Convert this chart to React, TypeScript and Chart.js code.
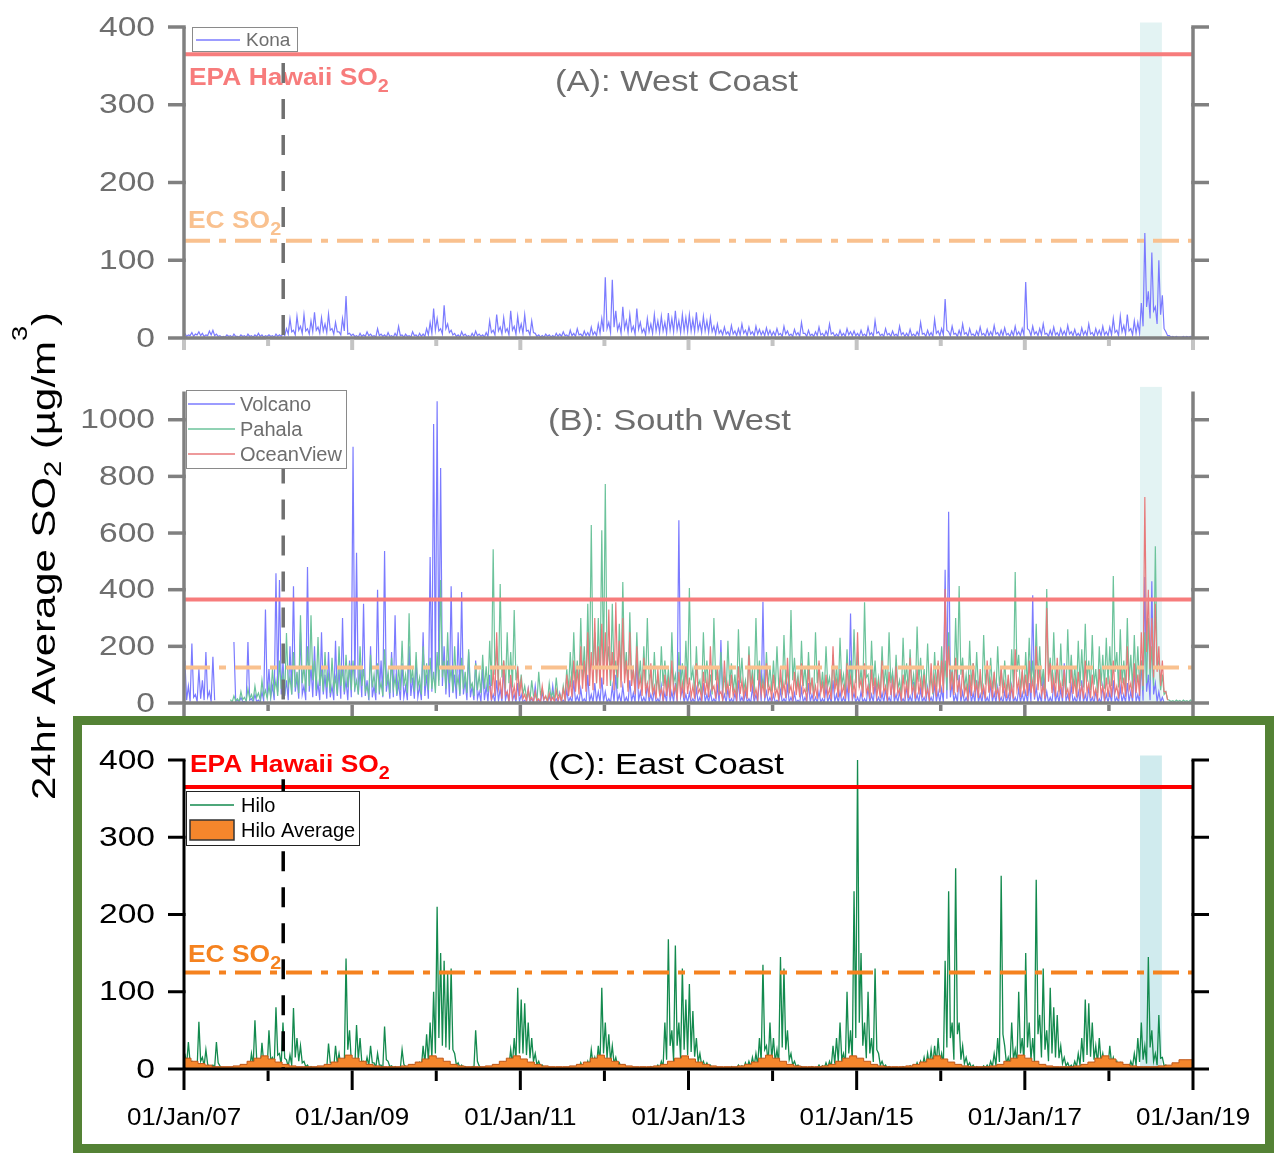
import React, { useEffect, useRef } from 'react';
import { Chart, registerables } from 'chart.js';

Chart.register(...registerables);

const FONT = '"Liberation Sans", Arial, Helvetica, sans-serif';

// ---------- axis / reference data ----------
const X_MIN = 2007;
const X_MAX = 2019;
const yearTicks = [2007, 2008, 2009, 2010, 2011, 2012, 2013, 2014, 2015, 2016, 2017, 2018, 2019];
const labelledYears = [2007, 2009, 2011, 2013, 2015, 2017, 2019];
const xTickLabels = ['01/Jan/07', '01/Jan/09', '01/Jan/11', '01/Jan/13', '01/Jan/15', '01/Jan/17', '01/Jan/19'];
const ticks400 = [0, 100, 200, 300, 400];
const ticks1000 = [0, 200, 400, 600, 800, 1000];

const EPA_HAWAII_SO2 = 365;
const EC_SO2 = 125;
const SUMMIT_ERUPTION = 2008.18; // Mar 2008
const LERZ_ERUPTION = [2018.37, 2018.63]; // May - Aug 2018

// every series: one peak and one low value per half month
const SAMPLES_PER_YEAR = 24;

// ---------- (A) West Coast : Kona ----------
const konaStart = 2007;
const konaPeaks = [
  6, 4, 7, 5, 8, 6, 4, 9, 10, 5, 3, 2, 4, 3, 5, 2, 4, 3, 5, 3, 4, 6, 4, 3,
  4, 3, 5, 4, 6, 12, 25, 10, 28, 15, 30, 12, 22, 33, 14, 26, 18, 31, 12, 20, 8, 25, 54, 6,
  5, 3, 6, 4, 8, 5, 3, 12, 5, 4, 7, 3, 6, 15, 4, 5, 3, 8, 4, 6, 5, 12, 20, 38,
  25, 12, 42, 18, 10, 6, 4, 8, 5, 3, 6, 9, 5, 4, 7, 22, 10, 30, 14, 26, 12, 35, 15, 28,
  18, 30, 10, 22, 6, 4, 3, 5, 4, 3, 6, 5, 8, 4, 10, 6, 12, 5, 9, 7, 14, 8, 18, 25,
  78, 20, 75, 35, 18, 40, 22, 30, 15, 38, 20, 12, 25, 18, 30, 22, 28, 20, 32, 25, 35, 22, 30, 26,
  30, 24, 33, 20, 28, 22, 26, 15, 18, 10, 14, 8, 16, 9, 12, 18, 10, 14, 8, 15, 11, 9, 13, 10,
  8, 12, 6, 15, 9, 5, 11, 7, 20, 6, 10, 5, 8, 14, 6, 9, 18, 7, 5, 10, 6, 12, 8, 9,
  6, 10, 5, 14, 7, 22, 8, 5, 12, 6, 9, 5, 15, 7, 6, 11, 5, 8, 20, 6, 10, 7, 24, 9,
  12, 50, 8, 15, 6, 10, 18, 7, 12, 5, 9, 14, 6, 11, 8, 16, 7, 10, 13, 6, 9, 15, 8, 12,
  72, 10, 15, 8, 12, 18, 6, 10, 14, 7, 12, 9, 16, 8, 11, 6, 13, 9, 18, 7, 12, 10, 15, 8,
  14, 25, 10, 28, 16, 30, 12, 22, 20, 45, 135, 60, 110, 40, 100, 55, 8, 3, 2, 2, 1, 2, 2, 2,
];
const konaLows = [
  2, 3, 2, 4, 3, 2, 3, 4, 3, 2, 1, 1, 2, 1, 2, 1, 2, 1, 2, 1, 2, 2, 1, 2,
  2, 1, 2, 2, 3, 5, 8, 4, 10, 6, 9, 5, 8, 10, 6, 9, 7, 10, 5, 8, 4, 9, 5, 3,
  2, 1, 2, 2, 3, 2, 1, 3, 2, 1, 2, 1, 2, 3, 1, 2, 1, 3, 1, 2, 2, 4, 6, 10,
  9, 5, 12, 7, 4, 2, 1, 3, 2, 1, 2, 3, 2, 1, 2, 7, 4, 9, 5, 8, 4, 10, 5, 9,
  6, 9, 4, 7, 2, 1, 1, 2, 1, 1, 2, 2, 3, 1, 3, 2, 4, 2, 3, 2, 4, 3, 6, 8,
  12, 7, 14, 10, 6, 12, 7, 9, 5, 11, 7, 4, 8, 6, 9, 7, 9, 6, 10, 8, 10, 7, 9, 8,
  9, 8, 10, 7, 9, 7, 8, 5, 6, 4, 5, 3, 5, 3, 4, 6, 3, 5, 3, 5, 4, 3, 4, 3,
  3, 4, 2, 5, 3, 2, 4, 2, 6, 2, 3, 2, 3, 4, 2, 3, 5, 2, 2, 3, 2, 4, 3, 3,
  2, 3, 2, 4, 2, 6, 3, 2, 4, 2, 3, 2, 4, 2, 2, 3, 2, 3, 5, 2, 3, 2, 6, 3,
  4, 10, 3, 5, 2, 3, 5, 2, 4, 2, 3, 4, 2, 3, 3, 5, 2, 3, 4, 2, 3, 4, 3, 4,
  12, 3, 5, 3, 4, 5, 2, 3, 4, 2, 4, 3, 5, 3, 3, 2, 4, 3, 5, 2, 4, 3, 4, 3,
  4, 7, 3, 8, 5, 9, 4, 6, 6, 15, 40, 25, 35, 18, 30, 12, 3, 1, 1, 1, 1, 1, 1, 1,
];

// ---------- (B) South West ----------
const volcanoStart = 2007;
const volcanoPeaks = [
  150, 60, 210, 30, 120, 80, 180, 40, 163, null, null, null, null, null, 215, 10, 20, 5, 215, 15, 30, 10, 40, 330,
  120, 60, 458, 434, 150, 80, 200, 412, 90, 250, 60, 480, 130, 200, 70, 250, 100, 180, 60, 220, 120, 300, 80, 150,
  905, 530, 120, 350, 80, 200, 60, 400, 150, 537, 90, 180, 310, 70, 140, 60, 200, 90, 150, 60, 250, 100, 515, 985,
  1065, 830, 200, 150, 412, 100, 250, 392, 80, 180, 60, 150, 40, 120, 60, 100, 30, 80, 50, 120, 40, 90, 30, 70,
  30, 10, 50, 15, 60, 10, 40, 5, 25, 60, 15, 35, 10, 45, 20, 80, 25, 50, 15, 100, 30, 70, 40, 90,
  40, 15, 60, 100, 30, 60, 20, 80, 35, 150, 40, 20, 70, 30, 50, 15, 60, 35, 100, 40, 70, 645, 50, 30,
  35, 15, 50, 20, 70, 30, 40, 15, 60, 222, 30, 50, 15, 35, 80, 20, 40, 15, 55, 30, 100, 357, 40, 20,
  30, 10, 45, 15, 60, 20, 35, 10, 50, 20, 70, 30, 20, 40, 15, 55, 25, 80, 30, 40, 20, 60, 316, 35,
  20, 40, 15, 55, 30, 70, 20, 35, 50, 20, 100, 30, 40, 15, 60, 25, 75, 30, 50, 20, 55, 20, 70, 40,
  50, 470, 675, 70, 30, 100, 40, 20, 60, 35, 80, 30, 50, 20, 70, 35, 55, 20, 40, 30, 60, 20, 50, 35,
  40, 70, 380, 55, 30, 100, 40, 20, 70, 35, 50, 140, 30, 60, 20, 40, 80, 30, 55, 20, 40, 15, 60, 30,
  35, 80, 20, 55, 30, 70, 40, 120, 30, 150, 445, 100, 430, 70, 40, 20,
];
const volcanoLows = [
  10, 5, 20, 5, 15, 10, 20, 5, 10, null, null, null, null, null, 5, 2, 5, 1, 10, 3, 5, 2, 8, 20,
  20, 10, 40, 30, 25, 10, 30, 40, 15, 30, 10, 40, 20, 25, 10, 30, 15, 20, 10, 25, 15, 30, 10, 20,
  40, 30, 20, 25, 10, 20, 10, 30, 20, 40, 15, 20, 25, 10, 20, 10, 25, 15, 20, 10, 25, 15, 40, 60,
  80, 60, 30, 20, 35, 15, 25, 30, 10, 20, 10, 15, 5, 10, 5, 10, 3, 8, 5, 10, 3, 8, 3, 5,
  3, 1, 5, 2, 5, 1, 3, 1, 2, 5, 1, 3, 1, 4, 2, 5, 2, 4, 1, 6, 2, 5, 3, 5,
  3, 1, 4, 6, 2, 4, 1, 5, 2, 8, 3, 1, 4, 2, 3, 1, 4, 2, 6, 3, 4, 20, 3, 2,
  2, 1, 3, 1, 4, 2, 3, 1, 3, 8, 2, 3, 1, 2, 5, 1, 3, 1, 3, 2, 5, 10, 2, 1,
  2, 1, 3, 1, 3, 1, 2, 1, 3, 1, 4, 2, 1, 3, 1, 3, 2, 5, 2, 3, 1, 4, 10, 2,
  1, 3, 1, 3, 2, 4, 1, 2, 3, 1, 5, 2, 3, 1, 3, 2, 4, 2, 3, 1, 3, 1, 4, 2,
  3, 15, 20, 4, 2, 5, 2, 1, 3, 2, 4, 2, 3, 1, 4, 2, 3, 1, 2, 2, 3, 1, 3, 2,
  2, 4, 12, 3, 2, 5, 2, 1, 4, 2, 3, 6, 2, 3, 1, 2, 4, 2, 3, 1, 2, 1, 3, 2,
  2, 4, 1, 3, 2, 4, 2, 6, 2, 8, 40, 10, 30, 5, 3, 2,
];

const pahalaStart = 2007 + 13 / 24;
const pahalaPeaks = [
  12, 25, 15, 40, 20, 50, 30, 60, 35, 80, 45,
  60, 120, 80, 150, 100, 247, 90, 180, 110, 310, 130, 200, 310, 150, 233, 120, 180, 100, 160, 90, 200, 120, 170, 140,
  150, 80, 200, 120, 60, 170, 100, 140, 70, 190, 110, 160, 90, 130, 220, 100, 317, 120, 180, 90, 200, 140, 160, 110,
  180, 434, 150, 250, 120, 200, 90, 160, 110, 190, 70, 140, 100, 170, 130, 220, 543, 200, 420, 150, 250, 180, 328, 120,
  100, 60, 40, 80, 30, 110, 50, 20, 70, 40, 90, 30, 60, 120, 180, 250, 150, 300, 200, 350, 628, 250, 300, 610,
  773, 200, 350, 150, 280, 427, 180, 320, 120, 250, 150, 200, 300, 110, 180, 90, 200, 150, 120, 250, 100, 180, 140, 220,
  406, 120, 200, 80, 250, 150, 100, 300, 130, 180, 90, 220, 140, 100, 260, 160, 80, 200, 120, 300, 150, 90, 180, 130,
  150, 200, 90, 240, 120, 328, 160, 100, 220, 130, 180, 80, 250, 140, 110, 200, 90, 170, 130, 230, 100, 190, 150, 260,
  180, 120, 356, 100, 220, 150, 90, 200, 130, 250, 110, 170, 80, 230, 140, 190, 100, 270, 160, 120, 210, 90, 180, 140,
  200, 150, 250, 120, 300, 413, 160, 100, 220, 140, 180, 90, 240, 130, 160, 100, 200, 120, 150, 80, 190, 462, 170, 110,
  180, 230, 150, 280, 200, 120, 402, 160, 250, 140, 210, 100, 260, 170, 130, 220, 190, 280, 150, 240, 120, 200, 170, 230,
  200, 448, 180, 260, 150, 300, 170, 240, 200, 150, 250, 300, 200, 553, 150, 100, 40, 10, 8, 10, 9, 10, 8, 10,
];
const pahalaLows = [
  3, 8, 5, 12, 6, 15, 10, 20, 12, 25, 15,
  20, 40, 25, 50, 30, 60, 30, 55, 35, 70, 40, 60, 80, 45, 60, 40, 55, 35, 50, 30, 60, 40, 55, 45,
  50, 30, 60, 40, 25, 55, 35, 45, 25, 60, 35, 50, 30, 45, 60, 35, 70, 40, 55, 30, 60, 45, 50, 35,
  60, 90, 50, 70, 40, 60, 30, 50, 35, 55, 25, 45, 35, 50, 40, 60, 100, 60, 90, 50, 70, 55, 80, 40,
  30, 20, 10, 25, 8, 30, 15, 5, 20, 10, 25, 8, 20, 40, 55, 70, 50, 80, 60, 90, 120, 70, 80, 110,
  130, 60, 90, 50, 80, 100, 55, 85, 40, 70, 45, 60, 80, 35, 55, 30, 60, 45, 35, 70, 30, 55, 40, 65,
  80, 35, 60, 25, 70, 45, 30, 80, 40, 55, 30, 60, 40, 30, 70, 45, 25, 60, 35, 80, 45, 30, 55, 40,
  45, 60, 30, 65, 35, 80, 50, 30, 60, 40, 55, 25, 70, 40, 35, 60, 30, 50, 40, 65, 30, 55, 45, 70,
  55, 35, 90, 30, 60, 45, 30, 55, 40, 70, 35, 50, 25, 65, 40, 55, 30, 75, 45, 35, 60, 30, 55, 40,
  60, 45, 70, 35, 80, 100, 50, 30, 60, 40, 55, 30, 65, 40, 50, 30, 60, 35, 45, 25, 55, 110, 50, 35,
  55, 65, 45, 75, 60, 35, 100, 50, 70, 40, 60, 30, 70, 50, 40, 60, 55, 75, 45, 65, 35, 60, 50, 65,
  60, 110, 55, 70, 45, 80, 50, 65, 60, 45, 70, 80, 60, 130, 45, 30, 12, 5, 4, 5, 4, 5, 4, 5,
];

const oceanViewStart = 2010 + 15 / 24;
const oceanViewPeaks = [
  60, 120, 250, 80, 150, 40, 100, 60, 130,
  80, 30, 50, 20, 40, 15, 60, 25, 35, 20, 45, 30, 50, 100, 80, 150, 120, 200, 150, 250, 180, 300, 200, 280,
  250, 330, 180, 356, 220, 300, 150, 250, 120, 200, 90, 160, 70, 140, 60, 120, 50, 100, 80, 150, 60, 110, 70, 130,
  90, 60, 140, 50, 110, 80, 200, 60, 120, 40, 150, 70, 100, 50, 130, 80, 60, 170, 90, 50, 120, 70, 140, 60,
  100, 50, 130, 70, 160, 60, 110, 80, 140, 50, 120, 90, 60, 150, 70, 100, 50, 200, 80, 120, 60, 140, 90, 70,
  250, 80, 140, 60, 120, 90, 70, 150, 60, 110, 80, 130, 50, 100, 70, 160, 60, 120, 80, 100, 50, 140, 90, 150,
  150, 402, 200, 110, 160, 80, 130, 60, 100, 140, 70, 120, 60, 150, 80, 110, 50, 130, 70, 100, 60, 190, 80, 120,
  100, 150, 80, 200, 120, 60, 335, 140, 90, 160, 70, 120, 50, 130, 80, 110, 60, 150, 70, 100, 50, 120, 60, 90,
  80, 150, 60, 120, 90, 200, 70, 140, 100, 250, 727, 400, 300, 350, 200, 150, 40,
];
const oceanViewLows = [
  10, 25, 50, 15, 30, 8, 20, 12, 25,
  15, 5, 10, 4, 8, 3, 12, 5, 7, 4, 9, 6, 10, 25, 20, 40, 30, 50, 40, 60, 45, 70, 50, 65,
  60, 80, 45, 90, 55, 70, 40, 60, 30, 50, 25, 40, 20, 35, 15, 30, 12, 25, 20, 35, 15, 28, 18, 32,
  22, 15, 35, 12, 28, 20, 45, 15, 30, 10, 35, 18, 25, 12, 32, 20, 15, 40, 22, 12, 30, 18, 35, 15,
  25, 12, 32, 18, 38, 15, 28, 20, 35, 12, 30, 22, 15, 36, 18, 25, 12, 45, 20, 30, 15, 35, 22, 18,
  55, 20, 35, 15, 30, 22, 18, 36, 15, 28, 20, 32, 12, 25, 18, 38, 15, 30, 20, 25, 12, 35, 22, 36,
  36, 90, 45, 28, 38, 20, 32, 15, 25, 35, 18, 30, 15, 36, 20, 28, 12, 32, 18, 25, 15, 45, 20, 30,
  25, 36, 20, 45, 30, 15, 75, 35, 22, 38, 18, 30, 12, 32, 20, 28, 15, 36, 18, 25, 12, 30, 15, 22,
  20, 36, 15, 30, 22, 45, 18, 35, 25, 60, 180, 120, 90, 110, 60, 40, 10,
];

// ---------- (C) East Coast ----------
const hiloStart = 2007;
const hiloPeaks = [
  20, 35, 10, 8, 61, 15, 25, 3, 5, 35, 4, 2, 2, 1, 2, 2, 1, 3, 2, 20, 63, 8, 34, 12,
  50, 15, 80, 20, 60, 12, 18, 79, 40, 30, 10, 5, 3, 2, 2, 1, 3, 33, 8, 30, 20, 10, 143, 50,
  8, 57, 40, 10, 15, 30, 8, 20, 5, 55, 10, 4, 3, 2, 25, 3, 2, 5, 4, 8, 30, 45, 60, 100,
  210, 150, 140, 125, 130, 20, 8, 5, 3, 2, 3, 50, 4, 2, 2, 1, 3, 2, 5, 8, 10, 25, 40, 105,
  90, 85, 60, 40, 20, 10, 5, 3, 2, 2, 1, 2, 1, 2, 3, 2, 4, 8, 6, 10, 25, 15, 30, 105,
  60, 45, 30, 15, 8, 5, 3, 2, 2, 1, 2, 2, 1, 3, 2, 5, 10, 60, 168, 50, 160, 60, 130, 90,
  110, 75, 40, 20, 10, 8, 5, 3, 2, 2, 1, 2, 3, 2, 5, 4, 8, 10, 15, 20, 40, 135, 30, 60,
  40, 25, 145, 130, 50, 20, 10, 5, 3, 2, 2, 3, 2, 5, 4, 8, 10, 30, 40, 60, 20, 100, 50, 230,
  400, 150, 60, 100, 40, 130, 20, 10, 5, 3, 2, 2, 1, 3, 2, 4, 5, 8, 10, 15, 20, 25, 30, 40,
  20, 140, 230, 60, 260, 60, 30, 15, 8, 5, 3, 2, 4, 5, 10, 20, 40, 250, 30, 15, 60, 25, 100, 40,
  150, 60, 40, 245, 70, 130, 50, 105, 80, 70, 30, 15, 8, 5, 10, 20, 40, 90, 85, 60, 30, 40, 20, 10,
  30, 15, 10, 8, 5, 3, 10, 20, 40, 60, 30, 145, 50, 20, 70, 15, 5, 3, 2, 1, 2, 1, 2, 3,
];
const hiloLows = [
  5, 8, 3, 2, 10, 4, 6, 1, 2, 8, 1, 1, 1, 0, 1, 1, 0, 1, 1, 5, 12, 2, 8, 3,
  12, 4, 18, 5, 14, 3, 5, 15, 10, 8, 3, 1, 1, 1, 1, 0, 1, 8, 2, 7, 5, 3, 25, 10,
  2, 12, 9, 3, 4, 8, 2, 5, 1, 12, 3, 1, 1, 1, 6, 1, 1, 1, 1, 2, 7, 10, 14, 20,
  40, 30, 28, 25, 25, 5, 2, 1, 1, 1, 1, 10, 1, 1, 1, 0, 1, 1, 1, 2, 3, 6, 10, 20,
  20, 18, 14, 10, 5, 3, 1, 1, 1, 1, 0, 1, 0, 1, 1, 1, 1, 2, 2, 3, 6, 4, 7, 20,
  14, 10, 7, 4, 2, 1, 1, 1, 1, 0, 1, 1, 0, 1, 1, 1, 3, 12, 30, 10, 30, 12, 25, 18,
  22, 16, 9, 5, 3, 2, 1, 1, 1, 1, 0, 1, 1, 1, 1, 1, 2, 3, 4, 5, 9, 25, 7, 12,
  9, 6, 28, 25, 12, 5, 3, 1, 1, 1, 1, 1, 1, 1, 1, 2, 3, 7, 9, 12, 5, 20, 10, 40,
  60, 30, 14, 20, 9, 25, 5, 3, 1, 1, 1, 1, 0, 1, 1, 1, 1, 2, 3, 4, 5, 6, 7, 9,
  5, 28, 40, 12, 45, 12, 7, 4, 2, 1, 1, 1, 1, 1, 3, 5, 9, 45, 7, 4, 12, 6, 20, 9,
  28, 12, 9, 45, 15, 25, 10, 20, 15, 14, 7, 4, 2, 1, 3, 5, 9, 18, 16, 12, 7, 9, 5, 3,
  7, 4, 3, 2, 1, 1, 3, 5, 9, 12, 7, 28, 10, 5, 14, 4, 1, 1, 1, 0, 1, 0, 1, 1,
];

// monthly Hilo average
const hiloAverageStart = 2007;
const hiloAverage = [
  17, 14, 10, 7, 5, 3, 3, 3, 4, 6, 10, 14,
  17, 13, 9, 6, 4, 3, 3, 3, 4, 6, 9, 14,
  18, 14, 10, 6, 4, 3, 3, 3, 4, 6, 9, 13,
  17, 14, 10, 6, 4, 3, 3, 3, 4, 6, 10, 14,
  17, 13, 9, 6, 4, 3, 3, 3, 4, 6, 9, 14,
  18, 14, 10, 6, 4, 3, 3, 3, 4, 6, 10, 14,
  17, 13, 9, 6, 4, 3, 3, 3, 4, 6, 9, 14,
  18, 14, 10, 6, 4, 3, 3, 3, 4, 6, 10, 14,
  17, 14, 10, 6, 4, 3, 3, 3, 4, 6, 9, 13,
  17, 13, 9, 6, 4, 3, 3, 3, 4, 6, 10, 14,
  18, 14, 10, 6, 4, 3, 3, 3, 4, 6, 9, 14,
  17, 13, 9, 6, 4, 3, 3, 3, 4, 5, 8, 12,
];

// ---------- helpers ----------
function toZigzag(peaks: (number | null)[], lows: (number | null)[], start: number) {
  const pts: { x: number; y: number | null }[] = [];
  peaks.forEach((v, i) => {
    pts.push({ x: start + (i + 0.25) / SAMPLES_PER_YEAR, y: v });
    pts.push({ x: start + (i + 0.75) / SAMPLES_PER_YEAR, y: lows[i] ?? null });
  });
  return pts;
}
function toSteps(vals: number[], start: number) {
  const pts = vals.map((v, i) => ({ x: start + i / 12, y: v }));
  pts.push({ x: X_MAX, y: vals[vals.length - 1] });
  return pts;
}
function hLine(value: number) {
  return [{ x: X_MIN, y: value }, { x: X_MAX, y: value }];
}

type Seg = { t: string; scale?: number; dy?: number };
function drawRich(ctx: CanvasRenderingContext2D, segs: Seg[], x: number, y: number, o: any) {
  ctx.save();
  ctx.translate(x, y);
  if (o.rotate) ctx.rotate(o.rotate);
  ctx.scale(o.sx ?? 1, 1);
  ctx.fillStyle = o.color;
  ctx.textBaseline = o.baseline ?? 'alphabetic';
  ctx.textAlign = 'left';
  const fnt = (s: number) => `${o.bold ? 'bold ' : ''}${s}px ${FONT}`;
  const widths = segs.map((s) => {
    ctx.font = fnt(o.size * (s.scale ?? 1));
    return ctx.measureText(s.t).width;
  });
  const total = widths.reduce((a, b) => a + b, 0);
  let cx = o.align === 'center' ? -total / 2 : o.align === 'right' ? -total : 0;
  segs.forEach((s, i) => {
    ctx.font = fnt(o.size * (s.scale ?? 1));
    ctx.fillText(s.t, cx, (s.dy ?? 0) * o.size);
    cx += widths[i];
  });
  ctx.restore();
}
function seg(ctx: CanvasRenderingContext2D, x0: number, y0: number, x1: number, y1: number) {
  ctx.beginPath();
  ctx.moveTo(x0, y0);
  ctx.lineTo(x1, y1);
  ctx.stroke();
}

const SO2 = (name: string): Seg[] => [{ t: name + ' SO' }, { t: '2', scale: 0.75, dy: 0.3 }];

function makePlugin(p: any) {
  return {
    id: 'panelDecor',
    beforeDatasetsDraw(chart: any) {
      const { ctx, chartArea: ca, scales } = chart;
      const x0 = scales.x.getPixelForValue(LERZ_ERUPTION[0]);
      const x1 = scales.x.getPixelForValue(LERZ_ERUPTION[1]);
      ctx.save();
      ctx.fillStyle = p.shade;
      ctx.fillRect(x0, ca.top - 4.5, x1 - x0, ca.bottom - ca.top + 4.5);
      ctx.restore();
    },
    afterDatasetsDraw(chart: any) {
      const { ctx, chartArea: ca, scales } = chart;
      const xs = scales.x;
      const ys = scales.y;
      const T = p.top;
      ctx.save();
      if (p.epaLabel) drawRich(ctx, SO2('EPA Hawaii'), p.epaLabel[0], p.epaLabel[1] - T, { size: 24, bold: true, sx: 1.1, color: p.epa });
      if (p.ecLabel) drawRich(ctx, SO2('EC'), p.ecLabel[0], p.ecLabel[1] - T, { size: 24, bold: true, sx: 1.1, color: p.ec });
      const vx = xs.getPixelForValue(SUMMIT_ERUPTION);
      ctx.strokeStyle = p.vline;
      ctx.lineWidth = 3.5;
      ctx.setLineDash([20, 16]);
      seg(ctx, vx, ys.getPixelForValue(p.vlineFrom), vx, ca.bottom);
      ctx.setLineDash([]);
      const L = p.legend;
      ctx.fillStyle = '#fff';
      ctx.fillRect(L.x, L.y - T, L.w, L.h);
      ctx.strokeStyle = L.border;
      ctx.lineWidth = 1;
      ctx.strokeRect(L.x + 0.5, L.y - T + 0.5, L.w, L.h);
      L.items.forEach((it: any) => {
        const cy = it.y - T;
        if (it.kind === 'line') {
          ctx.strokeStyle = it.color;
          ctx.lineWidth = 1.5;
          seg(ctx, L.s0, cy, L.s1, cy);
        } else {
          ctx.fillStyle = it.color;
          ctx.fillRect(L.s0, cy - 10, L.s1 - L.s0, 20);
          ctx.strokeStyle = '#333';
          ctx.lineWidth = 1.5;
          ctx.strokeRect(L.s0, cy - 10, L.s1 - L.s0, 20);
        }
        drawRich(ctx, [{ t: it.label }], L.tx, cy + 1, { size: L.size, color: L.color, baseline: 'middle' });
      });
      drawRich(ctx, [{ t: p.title }], p.titleX, p.titleY - T, { size: 30, sx: 1.15, color: p.text });
      ctx.strokeStyle = p.axis;
      ctx.lineWidth = p.axisW;
      seg(ctx, ca.left, ca.top, ca.left, ca.bottom + p.axisW / 2);
      seg(ctx, ca.right, ca.top, ca.right, ca.bottom + p.axisW / 2);
      seg(ctx, ca.left, ca.bottom, ca.right, ca.bottom);
      p.yTicks.forEach((v: number) => {
        const py = ys.getPixelForValue(v);
        seg(ctx, ca.left - 16, py, ca.left + p.axisW / 2, py);
        seg(ctx, ca.right - p.axisW / 2, py, ca.right + 16, py);
        drawRich(ctx, [{ t: String(v) }], 155, py + 1, { size: 28, sx: 1.2, color: p.text, align: 'right', baseline: 'middle' });
      });
      ctx.strokeStyle = p.xTickColor;
      ctx.lineWidth = p.xTickW;
      yearTicks.forEach((yr) => {
        const px = xs.getPixelForValue(yr);
        const major = labelledYears.includes(yr);
        seg(ctx, px, ca.bottom + p.axisW / 2, px, ca.bottom + (major ? p.xTickMajor : p.xTickMinor));
      });
      if (p.xLabels) {
        labelledYears.forEach((yr, i) => {
          const px = xs.getPixelForValue(yr);
          drawRich(ctx, [{ t: xTickLabels[i] }], px, 1119 - T, { size: 23, sx: 1.13, color: p.text, align: 'center', baseline: 'middle' });
        });
      }
      ctx.restore();
    },
  };
}

const GRAY_THEME = {
  axis: '#808080', axisW: 3.5, text: '#6e6e6e', shade: '#e3f3f3', vline: '#707070',
  epa: '#f77c7c', ec: '#f9c18f',
};

function refSets(epa: string, ec: string) {
  return [
    { label: 'EPA Hawaii SO2', data: hLine(EPA_HAWAII_SO2), borderColor: epa, borderWidth: 4, order: -2 },
    { label: 'EC SO2', data: hLine(EC_SO2), borderColor: ec, borderWidth: 4, borderDash: [26, 9, 7, 9], order: -1 },
  ];
}

const panelA = {
  ...GRAY_THEME,
  top: 0, height: 370, padTop: 27, xAxisH: 32, yMax: 400, yTicks: ticks400,
  xTickColor: '#c4c4c4', xTickW: 4, xTickMajor: 12, xTickMinor: 8, vlineFrom: 400,
  title: '(A): West Coast', titleX: 555, titleY: 91,
  epaLabel: [189, 85], ecLabel: [188, 228], xLabels: false,
  legend: {
    x: 192, y: 27, w: 105, h: 24, border: '#8a8a8a', color: '#6e6e6e', size: 19, s0: 196, s1: 240, tx: 246,
    items: [{ label: 'Kona', color: '#7b7bff', kind: 'line', y: 40 }],
  },
  datasets: () => [
    ...refSets(GRAY_THEME.epa, GRAY_THEME.ec),
    { label: 'Kona', data: toZigzag(konaPeaks, konaLows, konaStart), borderColor: '#7b7bff', borderWidth: 1.2, order: 1 },
  ],
};

const panelB = {
  ...GRAY_THEME,
  top: 370, height: 346, padTop: 21.4, xAxisH: 13, yMax: 1100, yTicks: ticks1000,
  xTickColor: '#808080', xTickW: 3.5, xTickMajor: 14, xTickMinor: 8, vlineFrom: 1100,
  title: '(B): South West', titleX: 548, titleY: 430, xLabels: false,
  legend: {
    x: 186, y: 390, w: 160, h: 78, border: '#8a8a8a', color: '#6e6e6e', size: 20, s0: 188, s1: 235, tx: 240,
    items: [
      { label: 'Volcano', color: '#7b7bff', kind: 'line', y: 404 },
      { label: 'Pahala', color: '#6cc39b', kind: 'line', y: 429 },
      { label: 'OceanView', color: '#e8797a', kind: 'line', y: 454 },
    ],
  },
  datasets: () => [
    ...refSets(GRAY_THEME.epa, GRAY_THEME.ec),
    { label: 'OceanView', data: toZigzag(oceanViewPeaks, oceanViewLows, oceanViewStart), borderColor: '#e8797a', borderWidth: 1.2, order: 1 },
    { label: 'Pahala', data: toZigzag(pahalaPeaks, pahalaLows, pahalaStart), borderColor: '#6cc39b', borderWidth: 1.2, order: 2 },
    { label: 'Volcano', data: toZigzag(volcanoPeaks, volcanoLows, volcanoStart), borderColor: '#7b7bff', borderWidth: 1.2, order: 3 },
  ],
};

const panelC = {
  axis: '#000', axisW: 3, text: '#000', shade: '#d0ebee', vline: '#000', epa: '#ff0000', ec: '#f5821f',
  top: 720, height: 433, padTop: 40, xAxisH: 84, yMax: 400, yTicks: ticks400,
  xTickColor: '#000', xTickW: 3, xTickMajor: 21, xTickMinor: 12, vlineFrom: 375,
  title: '(C): East Coast', titleX: 548, titleY: 774,
  epaLabel: [190, 772], ecLabel: [188, 962], xLabels: true,
  legend: {
    x: 186, y: 791, w: 173, h: 54, border: '#222', color: '#000', size: 20, s0: 190, s1: 234, tx: 241,
    items: [
      { label: 'Hilo', color: '#138a4e', kind: 'line', y: 805 },
      { label: 'Hilo Average', color: '#f5862c', kind: 'box', y: 830 },
    ],
  },
  datasets: () => [
    ...refSets('#ff0000', '#f5821f'),
    {
      label: 'Hilo Average', data: toSteps(hiloAverage, hiloAverageStart), stepped: 'after', fill: 'origin',
      backgroundColor: '#f5862c', borderColor: '#c0581a', borderWidth: 1, order: 0,
    },
    { label: 'Hilo', data: toZigzag(hiloPeaks, hiloLows, hiloStart), borderColor: '#138a4e', borderWidth: 1.3, order: 1 },
  ],
};

function makeChart(canvas: HTMLCanvasElement, p: any) {
  return new Chart(canvas, {
    type: 'line',
    data: { datasets: p.datasets() },
    options: {
      responsive: false,
      animation: false,
      devicePixelRatio: 1,
      events: [],
      layout: { padding: { left: 0, right: 81, top: p.padTop, bottom: 0 } },
      plugins: { legend: { display: false }, tooltip: { enabled: false }, title: { display: false } },
      elements: { point: { radius: 0 }, line: { tension: 0 } },
      scales: {
        x: {
          type: 'linear', min: X_MIN, max: X_MAX,
          grid: { display: false, drawTicks: false }, border: { display: false }, ticks: { display: false },
          afterFit: (s: any) => { s.height = p.xAxisH; },
        },
        y: {
          type: 'linear', min: 0, max: p.yMax,
          grid: { display: false, drawTicks: false }, border: { display: false }, ticks: { display: false },
          afterFit: (s: any) => { s.width = 184; },
        },
      },
    } as any,
    plugins: [makePlugin(p)],
  } as any);
}

export default function App() {
  const aRef = useRef<HTMLCanvasElement>(null);
  const bRef = useRef<HTMLCanvasElement>(null);
  const cRef = useRef<HTMLCanvasElement>(null);
  const tRef = useRef<HTMLCanvasElement>(null);

  useEffect(() => {
    const charts = [
      makeChart(aRef.current!, panelA),
      makeChart(bRef.current!, panelB),
      makeChart(cRef.current!, panelC),
    ];
    const ctx = tRef.current!.getContext('2d')!;
    ctx.clearRect(0, 0, 70, 1153);
    drawRich(
      ctx,
      [
        { t: '24hr Average SO' },
        { t: '2', scale: 0.7, dy: 0.18 },
        { t: ' (µg/m' },
        { t: '3', scale: 0.65, dy: -0.85 },
        { t: ')' },
      ],
      55, 556,
      { size: 33, sx: 1.27, color: '#000', align: 'center', rotate: -Math.PI / 2 }
    );
    return () => charts.forEach((c) => c.destroy());
  }, []);

  const abs = (top: number): React.CSSProperties => ({ position: 'absolute', left: 0, top, display: 'block' });
  return (
    <div style={{ position: 'fixed', left: 0, top: 0, width: 1274, height: 1153, background: '#fff', overflow: 'hidden' }}>
      <canvas ref={aRef} width={1274} height={panelA.height} style={abs(panelA.top)} />
      <canvas ref={bRef} width={1274} height={panelB.height} style={abs(panelB.top)} />
      <canvas ref={cRef} width={1274} height={panelC.height} style={abs(panelC.top)} />
      <div
        style={{
          position: 'absolute', left: 73, top: 716, width: 1201, height: 437,
          border: '9px solid #548235', boxSizing: 'border-box',
        }}
      />
      <canvas ref={tRef} width={70} height={1153} style={abs(0)} />
    </div>
  );
}
